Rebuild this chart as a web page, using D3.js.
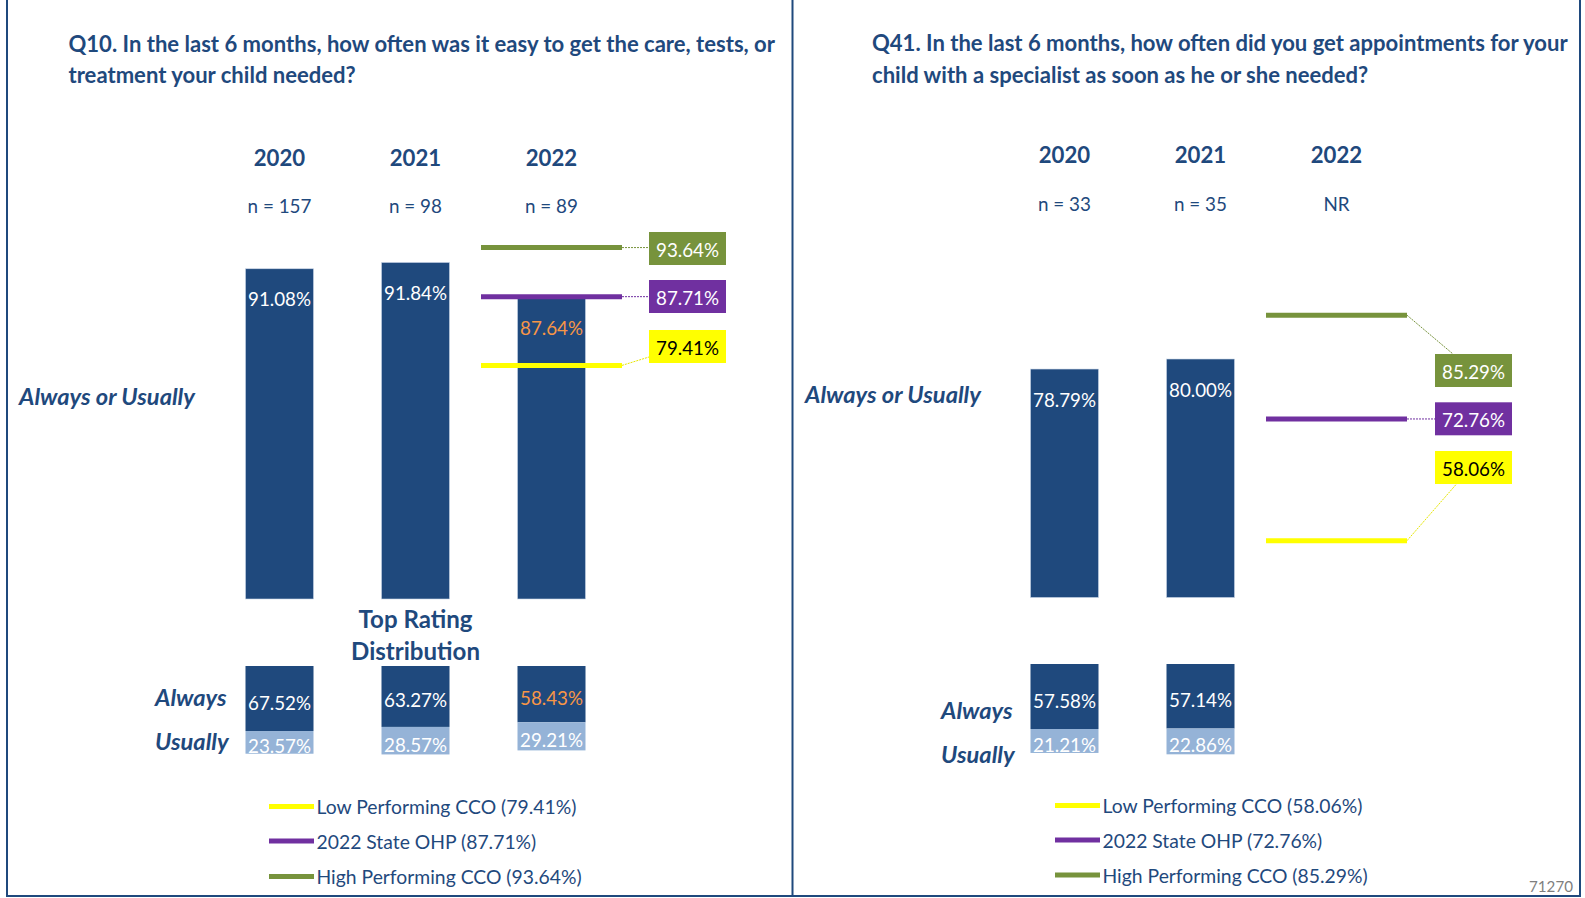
<!DOCTYPE html>
<html>
<head>
<meta charset="utf-8">
<script src="https://cdn.jsdelivr.net/npm/d3@7"></script>
<style>
  body { margin: 0; background: #fff; }
  svg { display: block; }
  text { font-family: Lato, Calibri, "Open Sans", sans-serif; }
</style>
</head>
<body>
<svg id="drawing_region"></svg>
<script>
// ---- data ----
const years = ['2020', '2021', '2022'];

const q10Title = ['Q10. In the last 6 months, how often was it easy to get the care, tests, or',
                  'treatment your child needed?'];
const q10N = ['n = 157', 'n = 98', 'n = 89'];
const q10TopBox = [91.08, 91.84, 87.64];
const q10Always = [67.52, 63.27, 58.43];
const q10Usually = [23.57, 28.57, 29.21];
const q10Bench = [79.41, 87.71, 93.64];

const q41Title = ['Q41. In the last 6 months, how often did you get appointments for your',
                  'child with a specialist as soon as he or she needed?'];
const q41N = ['n = 33', 'n = 35', 'NR'];
const q41TopBox = [78.79, 80.00, null];
const q41Always = [57.58, 57.14, null];
const q41Usually = [21.21, 22.86, null];
const q41Bench = [58.06, 72.76, 85.29];

const benchNames = ['Low Performing CCO', '2022 State OHP', 'High Performing CCO'];

// ---- styles ----
const NAVY = '#1f497d';
const LIGHT = '#95b3d7';
const ORANGE = '#f79646';
const benchColors = ['#ffff00', '#7030a0', '#77933c'];
const benchText = ['#000000', '#ffffff', '#ffffff'];

const W = 1585, H = 898;
const svg = d3.select('#drawing_region').attr('width', W).attr('height', H);

function fitSize(str, target, weight, style) {
    let t = svg.append('text')
        .attr('font-size', 100)
        .attr('font-weight', weight || 'normal')
        .attr('font-style', style || 'normal')
        .text(str);
    let w = t.node().getComputedTextLength();
    t.remove();
    return 100 * target / w;
}

const FS = {
    title: fitSize(q10Title[0], 707, 'bold'),
    year: fitSize('2020', 51.5, 'bold'),
    n: fitSize('n = 157', 64),
    value: fitSize('91.08%', 63),
    side: fitSize('Always or Usually', 176, 'bold', 'italic'),
    dist: fitSize('Distribution', 129, 'bold'),
    legend: fitSize('Low Performing CCO (79.41%)', 260),
    foot: fitSize('71270', 44)
};

const pct = v => d3.format('.2f')(v) + '%';

class QuestionPanel {
    constructor(config, data) {
        this.config = config;
        this.data = data;
        this.init();
    }

    init() {
        let self = this;
        let c = self.config;
        self.g = svg.append('g').attr('transform', `translate(${c.dx},0)`);

        self.x = d3.scaleBand()
            .domain(years)
            .range([211.5, 619.5])
            .paddingInner(0.5)
            .paddingOuter(0.25);

        self.y = d3.scaleLinear()
            .domain([51.2, 100])
            .range([c.bottom, c.bottom - 404.1]);

        self.yDist = d3.scaleLinear()
            .domain([0, 100])
            .range([0, c.distPx]);

        self.rows = years.map((yr, i) => ({
            year: yr,
            n: self.data.n[i],
            top: self.data.top[i],
            always: self.data.always[i],
            usually: self.data.usually[i],
            hi: yr === c.highlightYear
        }));
    }

    render() {
        let self = this;
        let c = self.config;
        let g = self.g;
        let bw = self.x.bandwidth();
        let cx = d => self.x(d.year) + bw / 2;

        // title
        g.selectAll('.title')
            .data(self.data.title)
            .enter().append('text')
            .attr('x', c.titleX)
            .attr('y', (d, i) => c.titleY[i])
            .attr('dominant-baseline', 'central')
            .attr('font-size', FS.title)
            .attr('font-weight', 'bold')
            .attr('fill', NAVY)
            .text(d => d);

        // year + n labels
        g.selectAll('.yr')
            .data(self.rows)
            .enter().append('text')
            .attr('x', cx)
            .attr('y', c.yearY)
            .attr('text-anchor', 'middle')
            .attr('dominant-baseline', 'central')
            .attr('font-size', FS.year)
            .attr('font-weight', 'bold')
            .attr('fill', NAVY)
            .text(d => d.year);

        g.selectAll('.nlab')
            .data(self.rows)
            .enter().append('text')
            .attr('x', cx)
            .attr('y', c.nY)
            .attr('text-anchor', 'middle')
            .attr('dominant-baseline', 'central')
            .attr('font-size', FS.n)
            .attr('fill', NAVY)
            .text(d => d.n);

        // top box bars
        let topRows = self.rows.filter(d => d.top != null);
        g.selectAll('.bar')
            .data(topRows)
            .enter().append('rect')
            .attr('x', d => self.x(d.year))
            .attr('y', d => self.y(d.top))
            .attr('width', bw)
            .attr('height', d => c.bottom - self.y(d.top))
            .attr('fill', NAVY)
            .attr('stroke', '#c9d5e6')
            .attr('stroke-width', 0.6);

        g.selectAll('.barlab')
            .data(topRows)
            .enter().append('text')
            .attr('x', cx)
            .attr('y', d => self.y(d.top) + 30)
            .attr('text-anchor', 'middle')
            .attr('dominant-baseline', 'central')
            .attr('font-size', FS.value)
            .attr('fill', d => d.hi ? ORANGE : '#ffffff')
            .text(d => pct(d.top));

        // benchmark lines for 2022
        let bx = self.x('2022') + bw / 2;
        let bench = self.data.bench.map((v, i) => ({
            v: v, name: benchNames[i], color: benchColors[i], tc: benchText[i], boxTop: c.boxTops[i]
        }));
        let boxW = 77, boxH = 33;

        g.selectAll('.leader')
            .data(bench)
            .enter().append('line')
            .attr('x1', bx + 70.5)
            .attr('y1', d => self.y(d.v))
            .attr('x2', d => {
                let ly = self.y(d.v);
                if (ly < d.boxTop - 6) return c.boxX + 18;
                if (ly > d.boxTop + boxH + 6) return c.boxX + 21.5;
                return c.boxX;
            })
            .attr('y2', d => {
                let ly = self.y(d.v);
                if (ly < d.boxTop - 6) return d.boxTop;
                if (ly > d.boxTop + boxH + 6) return d.boxTop + boxH;
                return Math.max(d.boxTop + 6, Math.min(ly, d.boxTop + boxH - 6));
            })
            .attr('stroke', d => d.color === '#ffff00' ? '#e6e600' : d.color)
            .attr('stroke-width', 1)
            .attr('stroke-dasharray', '2,1');

        g.selectAll('.bline')
            .data(bench)
            .enter().append('line')
            .attr('x1', bx - 70.5)
            .attr('x2', bx + 70.5)
            .attr('y1', d => self.y(d.v))
            .attr('y2', d => self.y(d.v))
            .attr('stroke', d => d.color)
            .attr('stroke-width', 5);

        g.selectAll('.bbox')
            .data(bench)
            .enter().append('rect')
            .attr('x', c.boxX)
            .attr('y', d => d.boxTop)
            .attr('width', boxW)
            .attr('height', boxH)
            .attr('fill', d => d.color);

        g.selectAll('.btext')
            .data(bench)
            .enter().append('text')
            .attr('x', c.boxX + boxW / 2)
            .attr('y', d => d.boxTop + boxH / 2 + 1)
            .attr('text-anchor', 'middle')
            .attr('dominant-baseline', 'central')
            .attr('font-size', FS.value)
            .attr('fill', d => d.tc)
            .text(d => pct(d.v));

        // side labels
        g.append('text')
            .attr('x', c.sideX)
            .attr('y', c.sideY)
            .attr('dominant-baseline', 'central')
            .attr('font-size', FS.side)
            .attr('font-weight', 'bold')
            .attr('font-style', 'italic')
            .attr('fill', NAVY)
            .text('Always or Usually');

        g.selectAll('.distname')
            .data(['Always', 'Usually'])
            .enter().append('text')
            .attr('x', c.labelX)
            .attr('y', (d, i) => i === 0 ? c.alwaysY : c.usuallyY)
            .attr('dominant-baseline', 'central')
            .attr('font-size', FS.side)
            .attr('font-weight', 'bold')
            .attr('font-style', 'italic')
            .attr('fill', NAVY)
            .text(d => d);

        if (c.showDistTitle) {
            g.selectAll('.disttitle')
                .data(['Top Rating', 'Distribution'])
                .enter().append('text')
                .attr('x', self.x('2021') + bw / 2)
                .attr('y', (d, i) => i === 0 ? 618.6 : 650)
                .attr('text-anchor', 'middle')
                .attr('dominant-baseline', 'central')
                .attr('font-size', FS.dist)
                .attr('font-weight', 'bold')
                .attr('fill', NAVY)
                .text(d => d);
        }

        // distribution (stacked downward from distTop)
        let distRows = self.rows.filter(d => d.always != null);
        let stack = d3.stack().keys(['always', 'usually'])(distRows);
        let fills = { always: NAVY, usually: LIGHT };

        let layer = g.selectAll('.layer')
            .data(stack)
            .enter().append('g')
            .attr('fill', d => fills[d.key]);

        layer.selectAll('rect')
            .data(d => d.map(s => ({ s: s, key: d.key })))
            .enter().append('rect')
            .attr('x', d => self.x(d.s.data.year))
            .attr('y', d => c.distTop + self.yDist(d.s[0]))
            .attr('width', bw)
            .attr('height', d => self.yDist(d.s[1]) - self.yDist(d.s[0]));

        layer.selectAll('text')
            .data(d => d.map(s => ({ s: s, key: d.key })))
            .enter().append('text')
            .attr('x', d => self.x(d.s.data.year) + bw / 2)
            .attr('y', d => c.distTop + (self.yDist(d.s[0]) + self.yDist(d.s[1])) / 2 + 3.5)
            .attr('text-anchor', 'middle')
            .attr('dominant-baseline', 'central')
            .attr('font-size', FS.value)
            .attr('fill', d => (d.key === 'always' && d.s.data.hi) ? ORANGE : '#ffffff')
            .text(d => pct(d.s.data[d.key]));

        // legend
        let leg = g.selectAll('.leg')
            .data(bench)
            .enter().append('g')
            .attr('transform', (d, i) => `translate(${c.legendX},${c.legendY[i]})`);

        leg.append('line')
            .attr('x1', 0).attr('x2', 45)
            .attr('y1', 0).attr('y2', 0)
            .attr('stroke', d => d.color)
            .attr('stroke-width', 5);

        leg.append('text')
            .attr('x', 47.5)
            .attr('y', 0)
            .attr('dominant-baseline', 'central')
            .attr('font-size', FS.legend)
            .attr('fill', NAVY)
            .text(d => `${d.name} (${pct(d.v)})`);
    }
}

const left = new QuestionPanel({
    dx: 0, titleX: 68.5, titleY: [43.5, 74.5], yearY: 157, nY: 205, bottom: 599,
    sideX: 19, sideY: 396, distTop: 666, distPx: 96.3, alwaysY: 697, usuallyY: 741, labelX: 155,
    boxX: 649, boxTops: [330, 280, 232], showDistTitle: true,
    legendX: 269, legendY: [806.6, 841, 876.4], highlightYear: '2022'
}, { title: q10Title, n: q10N, top: q10TopBox, always: q10Always, usually: q10Usually, bench: q10Bench });
left.render();

const right = new QuestionPanel({
    dx: 785, titleX: 87, titleY: [42.5, 74], yearY: 154.7, nY: 203, bottom: 597.5,
    sideX: 20, sideY: 394, distTop: 664, distPx: 112.9, alwaysY: 709.5, usuallyY: 754, labelX: 156,
    boxX: 650, boxTops: [451, 402.3, 354], showDistTitle: false,
    legendX: 270, legendY: [805.6, 840, 875], highlightYear: null
}, { title: q41Title, n: q41N, top: q41TopBox, always: q41Always, usually: q41Usually, bench: q41Bench });
right.render();

// panel frames
const frame = [
    [7, 0, 7, 896], [792.5, 0, 792.5, 896], [1580, 0, 1580, 896], [6, 896, 1581, 896]
];
svg.selectAll('.frame')
    .data(frame)
    .enter().append('line')
    .attr('x1', d => d[0]).attr('y1', d => d[1])
    .attr('x2', d => d[2]).attr('y2', d => d[3])
    .attr('stroke', NAVY)
    .attr('stroke-width', 2);

svg.append('text')
    .attr('x', 1573)
    .attr('y', 885.5)
    .attr('text-anchor', 'end')
    .attr('dominant-baseline', 'central')
    .attr('font-size', FS.foot)
    .attr('fill', '#7f7f7f')
    .text('71270');
</script>
</body>
</html>
